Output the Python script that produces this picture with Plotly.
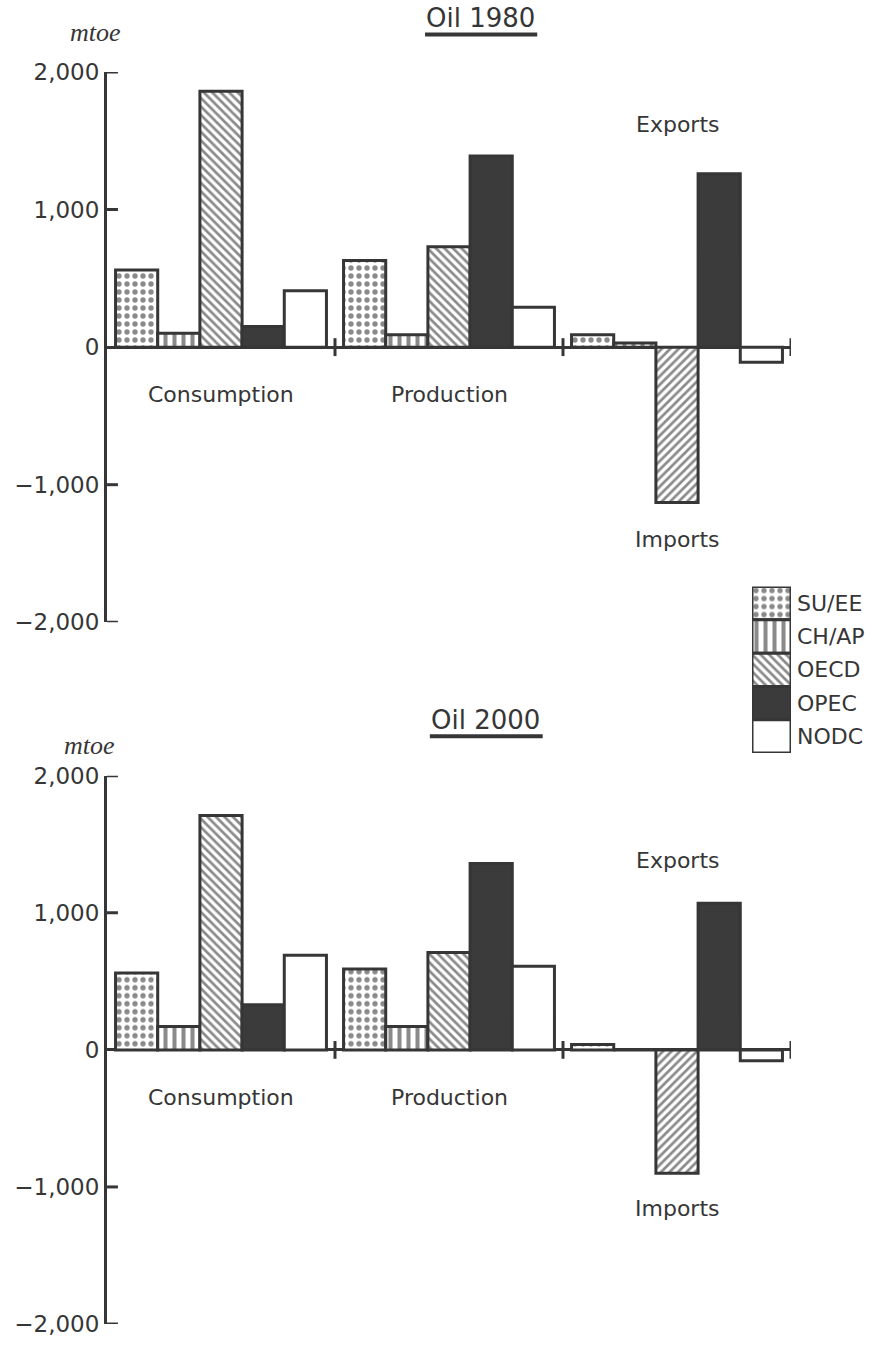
import plotly.graph_objects as go

# ---- data (million tonnes oil equivalent) ----
regions = ["SU/EE", "CH/AP", "OECD", "OPEC", "NODC"]
groups = ["Consumption", "Production", "Trade"]

# 1980: consumption, production, net trade (exports +, imports -)
su_ee_1980 = [560, 630, 90]
ch_ap_1980 = [100, 90, 30]
oecd_1980 = [1860, 730, -1130]
opec_1980 = [150, 1390, 1260]
nodc_1980 = [410, 290, -110]

# 2000
su_ee_2000 = [560, 590, 40]
ch_ap_2000 = [170, 170, 0]
oecd_2000 = [1710, 710, -900]
opec_2000 = [330, 1360, 1070]
nodc_2000 = [690, 610, -80]

y_ticks = [2000, 1000, 0, -1000, -2000]
y_tick_labels = ["2,000", "1,000", "0", "\u22121,000", "\u22122,000"]

# ---- styling ----
INK = "#363636"
HATCH = "#151515"
FONT = "DejaVu Sans"
OUTLINE = dict(color=INK, width=3)


def marker_for(region, values):
    if region == "SU/EE":
        pat = dict(shape=".", fgcolor=HATCH, bgcolor="white", size=8, solidity=0.35)
    elif region == "CH/AP":
        pat = dict(shape="|", fgcolor=HATCH, bgcolor="white", size=9, solidity=0.45)
    elif region == "OECD":
        # hatching flips direction on the import (negative) side
        shapes = ["\\" if v >= 0 else "/" for v in values]
        pat = dict(shape=shapes, fgcolor=HATCH, bgcolor="white", size=6, solidity=0.45)
    elif region == "OPEC":
        return dict(color="#3b3b3b", line=OUTLINE)
    else:
        return dict(color="white", line=OUTLINE)
    return dict(color="white", pattern=pat, line=OUTLINE)


fig = go.Figure()

panels = [
    ("x", "y", [su_ee_1980, ch_ap_1980, oecd_1980, opec_1980, nodc_1980]),
    ("x2", "y2", [su_ee_2000, ch_ap_2000, oecd_2000, opec_2000, nodc_2000]),
]

for xa, ya, series in panels:
    for region, vals in zip(regions, series):
        fig.add_trace(go.Bar(
            x=groups, y=vals, name=region, xaxis=xa, yaxis=ya,
            marker=marker_for(region, vals), showlegend=False,
            hoverinfo="x+y+name",
        ))

# legend drawn as a stacked column of swatches on its own small axes
n = len(regions)
for i, region in enumerate(regions):
    fig.add_trace(go.Bar(
        x=[0], y=[1], base=[n - 1 - i], width=[1], offset=-0.5,
        xaxis="x3", yaxis="y3", marker=marker_for(region, [1]),
        showlegend=False, hoverinfo="skip",
    ))

# ---- axes ----
yaxis_common = dict(
    range=[-2000, 2000], tickvals=y_ticks, ticktext=y_tick_labels,
    showline=True, linecolor=INK, linewidth=3,
    ticks="", showticklabels=True,
    tickfont=dict(family=FONT, size=23, color=INK),
    showgrid=False, zeroline=True, zerolinecolor=INK, zerolinewidth=3,
    fixedrange=True,
)
xaxis_common = dict(
    type="category", range=[-0.5, 2.5], showticklabels=False,
    showline=False, showgrid=False, zeroline=False, ticks="", fixedrange=True,
)

fig.update_layout(
    width=883, height=1346,
    margin=dict(l=107, r=92, t=72, b=9),
    paper_bgcolor="white", plot_bgcolor="white",
    barmode="group", bargap=0.075, bargroupgap=0,
    showlegend=False,
    font=dict(family=FONT, color=INK),
    xaxis=dict(domain=[0, 1], anchor="y", **xaxis_common),
    yaxis=dict(domain=[0.5605, 1], anchor="x", **yaxis_common),
    xaxis2=dict(domain=[0, 1], anchor="y2", **xaxis_common),
    yaxis2=dict(domain=[0, 0.4379], anchor="x2", **yaxis_common),
    xaxis3=dict(domain=[0.943, 1.0], anchor="y3", range=[-0.5, 0.5],
                visible=False, fixedrange=True),
    yaxis3=dict(domain=[0.456, 0.589], anchor="x3", range=[0, n],
                visible=False, fixedrange=True),
)

annotations = []
shapes = []

label_font = dict(family=FONT, size=22, color=INK)

panel_text = [
    ("x", "y", "Oil 1980", 0.546, 1.099, (0.465, 0.629, 1.068), -0.0175, 1.072, 1620, -1400),
    ("x2", "y2", "Oil 2000", 0.554, 1.101, (0.472, 0.637, 1.072), -0.025, 1.056, 1380, -1160),
]

for xa, ya, title, tx, ty, (ux0, ux1, uy), mx, my, exp_y, imp_y in panel_text:
    xd, yd = f"{xa} domain", f"{ya} domain"
    annotations.append(dict(text=title, x=tx, y=ty, xref=xd, yref=yd,
                            showarrow=False, xanchor="center", yanchor="middle",
                            font=dict(family=FONT, size=26, color=INK)))
    shapes.append(dict(type="line", xref=xd, yref=yd, x0=ux0, x1=ux1, y0=uy, y1=uy,
                       line=dict(color=INK, width=4)))
    annotations.append(dict(text="<i>mtoe</i>", x=mx, y=my, xref=xd, yref=yd,
                            showarrow=False, xanchor="center", yanchor="middle",
                            font=dict(family="Liberation Serif", size=26, color=INK)))
    for g in groups[:2]:
        annotations.append(dict(text=g, x=g, y=-345, xref=xa, yref=ya, showarrow=False,
                                xanchor="center", yanchor="middle", font=label_font))
    annotations.append(dict(text="Exports", x=groups[2], y=exp_y, xref=xa, yref=ya,
                            showarrow=False, xanchor="center", yanchor="middle",
                            font=label_font))
    annotations.append(dict(text="Imports", x=groups[2], y=imp_y, xref=xa, yref=ya,
                            showarrow=False, xanchor="center", yanchor="middle",
                            font=label_font))
    # short inward ticks on the value axis
    for t in y_ticks:
        if t == 0:
            continue
        shapes.append(dict(type="line", xref=xd, yref=ya, x0=0, x1=0.016, y0=t, y1=t,
                           line=dict(color=INK, width=3)))
    # short marks across the zero line between groups and at its end
    for b in (0.5, 1.5, 2.5):
        shapes.append(dict(type="line", xref=xa, yref=ya, x0=b, x1=b, y0=-65, y1=65,
                           line=dict(color=INK, width=3)))

for i, region in enumerate(regions):
    annotations.append(dict(text=region, x=0.5, y=n - 1 - i + 0.5, xref="x3", yref="y3",
                            showarrow=False, xanchor="left", yanchor="middle", xshift=4,
                            font=label_font))

fig.update_layout(annotations=annotations, shapes=shapes)

fig.write_html("out.html")
